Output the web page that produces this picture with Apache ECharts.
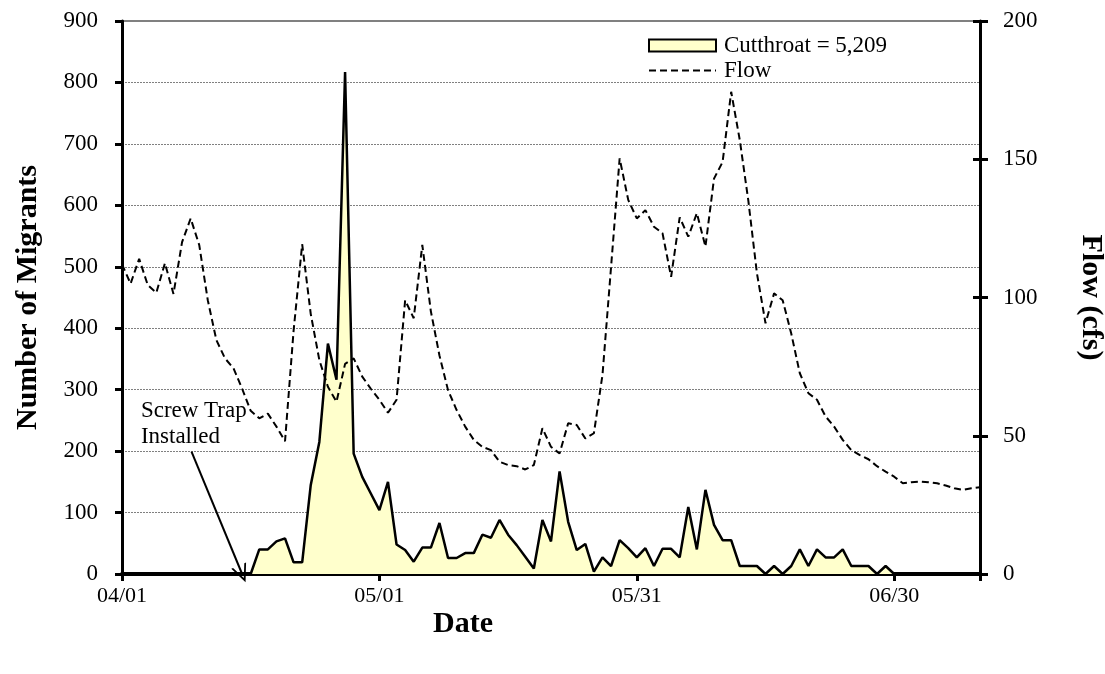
<!DOCTYPE html>
<html><head><meta charset="utf-8">
<script src="https://cdn.jsdelivr.net/npm/echarts@6/dist/echarts.min.js"></script>
<style>html,body{margin:0;padding:0;background:#fff}#c{width:1105px;height:674px}</style>
</head><body><div id="c"></div>
<script>
// x tick labels (days since 04/01: 0, 30, 60, 90)
const xTickLabels = ['04/01', '05/01', '05/31', '06/30'];
const xTickStep = 30;
const xMaxDay = 100;
const leftTicks = { min: 0, max: 900, step: 100 };
const rightTicks = { min: 0, max: 200, step: 50 };

// Daily flow (cfs), day 0 = 04/01
const flowStartDay = 0;
const flow = [
  112, 105, 114, 104.5, 101.7, 112.4, 101.3, 120, 128.6, 119,
  99, 84.6, 78, 74.4, 67, 59, 56.3, 58, 53.3, 48,
  88, 119.3, 94, 77.4, 67.7, 62.3, 76, 78, 71.4, 67,
  63, 58.3, 63, 99, 92.5, 119, 95, 79, 66.5, 59.3,
  53.3, 48.5, 46, 44.8, 40.6, 39.4, 39, 37.8, 39.4, 52.7,
  46, 43.6, 54.5, 53.9, 49, 50.9, 72, 111, 150.3, 135.3,
  128.6, 131.6, 125.6, 123.2, 107.5, 129, 122, 130.5, 118.4, 143,
  149, 174.4, 157, 135, 108.8, 90.7, 101.5, 99, 87, 72.6,
  65.4, 63, 57, 53.3, 48.5, 44.8, 43, 41.5, 39, 37,
  35.2, 32.8, 33.2, 33.4, 33.2, 32.8, 32, 31, 30.4, 31, 31.4
];

// Daily cutthroat migrants, starting day 15 (04/16)
const fishStartDay = 15;
const fish = [
  0, 40, 40, 53, 58, 19, 19, 145, 215, 375,
  316, 817, 196, 158, 131, 104, 150, 48, 39, 20,
  43, 43, 83, 26, 26, 34, 34, 64, 59, 88,
  64, 47, 28, 9, 88, 53, 167, 85, 39, 49,
  4, 27, 13, 55, 42, 27, 42, 13, 41, 41,
  27, 109, 40, 137, 80, 55, 55, 13, 13, 13,
  0, 13, 0, 13, 40, 13, 40, 27, 27, 40,
  13, 13, 13, 0, 13, 0
];

const legendNames = ['Cutthroat = 5,209', 'Flow'];
const axisTitles = { x: 'Date', left: 'Number of Migrants', right: 'Flow (cfs)' };
const annotation = { text: 'Screw Trap\nInstalled', textAt: [2.2, 244], from: [8.1, 199], to: [14, 0] };

const FONT = '"Liberation Serif", "Times New Roman", serif';
const chart = echarts.init(document.getElementById('c'), null, { renderer: 'canvas' });

const fishData = fish.map((v, i) => [fishStartDay + i, v]);
const flowData = flow.map((v, i) => [flowStartDay + i, v]);

chart.setOption({
  animation: false,
  backgroundColor: '#fff',
  grid: { left: 122, right: 125, top: 21, bottom: 100, outerBoundsMode: 'none', containLabel: false,
    show: true, borderColor: '#808080', borderWidth: 2, backgroundColor: 'transparent' },
  legend: {
    orient: 'vertical', left: 648, top: 33, itemWidth: 67, itemHeight: 12, itemGap: 0, padding: 0,
    textStyle: { fontFamily: FONT, fontSize: 23, lineHeight: 25, color: '#000', padding: [0, 0, 0, 3] },
    data: [
      { name: legendNames[0], icon: 'rect', itemStyle: { color: '#FFFFCC', borderColor: '#000', borderWidth: 2 } },
      { name: legendNames[1], lineStyle: { color: '#000', width: 2, type: [7, 4] },
        itemStyle: { color: 'rgba(0,0,0,0)', borderColor: 'rgba(0,0,0,0)', borderWidth: 0, opacity: 0 } }
    ]
  },
  xAxis: {
    type: 'value', min: 0, max: xMaxDay, interval: xTickStep,
    axisLine: { onZero: false, lineStyle: { color: '#000', width: 4 } },
    axisTick: { length: 7, lineStyle: { color: '#000', width: 3 } },
    axisLabel: { margin: 11, fontFamily: FONT, fontSize: 22, color: '#000',
      formatter: v => (v % xTickStep === 0 && xTickLabels[v / xTickStep]) || '' },
    splitLine: { show: false }
  },
  yAxis: [
    {
      type: 'value', position: 'left', min: leftTicks.min, max: leftTicks.max, interval: leftTicks.step,
      name: axisTitles.left, nameLocation: 'middle', nameGap: 79,
      nameTextStyle: { fontFamily: FONT, fontSize: 30, fontWeight: 'bold', color: '#000' },
      axisLine: { show: true, lineStyle: { color: '#000', width: 3 } },
      axisTick: { show: true, length: 7, lineStyle: { color: '#000', width: 3 } },
      axisLabel: { margin: 24, fontFamily: FONT, fontSize: 23, color: '#000' },
      splitLine: { show: true, lineStyle: { color: '#808080', width: 1, type: [2, 1] } }
    },
    {
      type: 'value', position: 'right', min: rightTicks.min, max: rightTicks.max, interval: rightTicks.step,
      name: axisTitles.right, nameLocation: 'middle', nameGap: 96, nameRotate: -90,
      nameTextStyle: { fontFamily: FONT, fontSize: 30, fontWeight: 'bold', color: '#000' },
      axisLine: { show: true, lineStyle: { color: '#000', width: 3 } },
      axisTick: { show: true, length: 8, lineStyle: { color: '#000', width: 3 } },
      axisLabel: { margin: 23, fontFamily: FONT, fontSize: 23, color: '#000' },
      splitLine: { show: false }
    },
    {
      type: 'value', position: 'right', min: rightTicks.min, max: rightTicks.max, interval: rightTicks.step,
      axisLine: { show: false },
      axisTick: { show: true, inside: true, length: 7, lineStyle: { color: '#000', width: 3 } },
      axisLabel: { show: false }, splitLine: { show: false }
    }
  ],
  series: [
    {
      name: legendNames[0], type: 'line', yAxisIndex: 0, data: fishData, symbol: 'none', z: 2,
      lineStyle: { color: '#000', width: 2.5 },
      itemStyle: { color: '#FFFFCC', borderColor: '#000' },
      areaStyle: { color: '#FFFFCC', opacity: 1 },
      markLine: {
        silent: true, symbol: ['none', 'path://M5,0 L10,10 L8.8,10 L5,2.6 L1.2,10 L0,10 Z'], symbolSize: [16, 18],
        label: { show: false },
        lineStyle: { color: '#000', width: 2, type: 'solid' },
        data: [[{ coord: annotation.from }, { coord: annotation.to }]]
      },
      markPoint: {
        silent: true, symbol: 'rect', symbolSize: 0,
        label: { show: true, position: 'right', distance: 0, formatter: annotation.text,
          fontFamily: FONT, fontSize: 23, lineHeight: 26, color: '#000', align: 'left' },
        data: [{ coord: annotation.textAt }]
      }
    },
    {
      name: legendNames[1], type: 'line', yAxisIndex: 1, data: flowData, symbol: 'none', z: 3,
      lineStyle: { color: '#000', width: 2, type: [7, 4] },
      itemStyle: { color: '#000' }
    }
  ],
  graphic: [
    { type: 'text', x: 463, y: 624, style: { text: axisTitles.x, font: 'bold 30px ' + FONT, fill: '#000', align: 'center', verticalAlign: 'middle' } }
  ]
});
</script>
</body></html>
